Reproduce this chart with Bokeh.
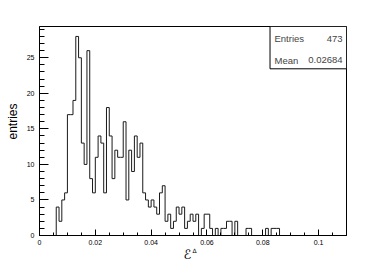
from bokeh.plotting import figure
from bokeh.models import (FixedTicker, CustomJSTickFormatter, Label,
                          BoxAnnotation, Range1d, Title)
from bokeh.embed import file_html
from bokeh.resources import INLINE

# ---- data -------------------------------------------------------------
bin_low = 0.0
bin_width = 0.001
counts = [0, 0, 0, 0, 0, 0, 4, 2, 5, 6,
          17, 17, 19, 28, 25, 13, 10, 26, 8, 6,
          11, 14, 13, 6, 18, 14, 8, 12, 11, 11,
          16, 5, 12, 9, 14, 11, 13, 6, 5, 4,
          5, 4, 3, 6, 7, 2, 3, 1, 2, 4,
          3, 4, 1, 2, 3, 2, 3, 0, 1, 3,
          3, 1, 0, 1, 0, 1, 1, 2, 2, 0,
          2, 0, 0, 0, 1, 1, 0, 0, 0, 0,
          0, 1, 0, 1, 1, 1, 0, 0, 0, 0,
          0, 0, 0, 0, 0, 0, 0, 0, 0, 0,
          0, 0, 0, 0, 0, 0, 0, 0, 0, 0]
x_major_ticks = [0.0, 0.02, 0.04, 0.06, 0.08, 0.1]
x_minor_ticks = [0.005 * i for i in range(23)]
y_major_ticks = [0, 5, 10, 15, 20, 25]
y_minor_ticks = list(range(0, 30))
stat_entries = 473
stat_mean = 0.02684
x_title = "\u2130"
x_title_sup = "\u0394"
y_title = "entries"

# ---- figure -----------------------------------------------------------
x_max = 0.11
y_max = 1.05 * max(counts)

p = figure(width=380, height=262,
           x_range=Range1d(0, x_max), y_range=Range1d(0, y_max),
           output_backend="svg", toolbar_location=None,
           min_border_left=39, min_border_right=34,
           min_border_top=26, min_border_bottom=27)
p.grid.visible = False
p.background_fill_color = "white"
p.border_fill_color = "white"
p.outline_line_color = "black"
p.outline_line_alpha = 1.0
p.outline_line_width = 1

edges = [bin_low + i * bin_width for i in range(len(counts) + 1)]
step_y = counts + [counts[-1]]
p.step(edges, step_y, mode="after", line_color="#1a1a1a", line_width=1)

font = "Liberation Sans"
for ax in (p.xaxis[0], p.yaxis[0]):
    ax.axis_line_color = "black"
    ax.major_tick_line_color = "black"
    ax.minor_tick_line_color = "black"
    ax.major_tick_out = 0
    ax.minor_tick_out = 0
    ax.major_label_text_font = font
    ax.major_label_text_font_size = "7px"
    ax.major_label_text_color = "black"

p.xaxis.ticker = FixedTicker(ticks=x_major_ticks, minor_ticks=x_minor_ticks)
p.xaxis.formatter = CustomJSTickFormatter(
    code="return tick.toFixed(2).replace(/0+$/, '').replace(/\\.$/, '');")
p.xaxis.major_tick_in = 6
p.xaxis.minor_tick_in = 3
p.xaxis.major_label_standoff = 4

p.yaxis.ticker = FixedTicker(ticks=y_major_ticks, minor_ticks=y_minor_ticks)
p.yaxis.major_tick_in = 9
p.yaxis.minor_tick_in = 5
p.yaxis.major_label_standoff = 5

# ---- axis titles ----------------------------------------------------------
has_standoff = "standoff" in Title.properties()
t_y = Title(text=y_title, align="right", offset=77, vertical_align="middle",
            text_font=font, text_font_size="12px",
            text_font_style="normal", text_color="black")
t_sup = Title(text=x_title_sup, align="left", offset=153, vertical_align="middle",
              text_font="DejaVu Sans", text_font_size="6px",
              text_font_style="normal", text_color="black")
t_main = Title(text=x_title, align="left", offset=144, vertical_align="top",
               text_font="DejaVu Sans", text_font_size="13px",
               text_font_style="normal", text_color="black")
if has_standoff:
    t_y.standoff = 5
    t_sup.standoff = -3
    t_main.standoff = -13
p.add_layout(t_y, "left")
p.add_layout(t_sup, "below")
p.add_layout(t_main, "below")

# ---- stats box ----------------------------------------------------------
box_left = 0.0826
box_bottom = 23.45
p.add_layout(BoxAnnotation(left=box_left, right=x_max, bottom=box_bottom, top=y_max,
                           fill_color="white", fill_alpha=1.0,
                           line_color="black", line_width=1, line_alpha=1.0))
stat_font = "9.5px"
text_l = 0.0842
text_r = 0.1086
p.add_layout(Label(x=text_l, y=27.67, text="Entries", text_font=font,
                   text_font_size=stat_font, text_baseline="middle"))
p.add_layout(Label(x=text_r, y=27.67, text=f"{stat_entries}", text_font=font,
                   text_font_size=stat_font, text_baseline="middle", text_align="right"))
p.add_layout(Label(x=text_l, y=24.62, text="Mean", text_font=font,
                   text_font_size=stat_font, text_baseline="middle"))
p.add_layout(Label(x=text_r, y=24.62, text=f"{stat_mean:.5f}", text_font=font,
                   text_font_size=stat_font, text_baseline="middle", text_align="right"))

open("out.html", "w").write(file_html(p, INLINE))
